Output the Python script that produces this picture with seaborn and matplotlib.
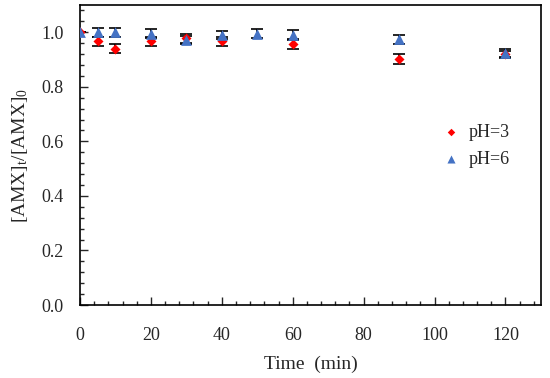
import matplotlib
matplotlib.use("Agg")
import matplotlib.pyplot as plt
from matplotlib.ticker import MultipleLocator
import seaborn as sns
import pandas as pd

time_ph3 = [0, 5, 10, 20, 30, 40, 60, 90, 120]
val_ph3 = [1.0, 0.966, 0.940, 0.966, 0.977, 0.966, 0.957, 0.903, 0.919]
err_ph3 = [0.0, 0.017, 0.018, 0.017, 0.015, 0.017, 0.017, 0.018, 0.012]

time_ph6 = [0, 5, 10, 20, 30, 40, 50, 60, 90, 120]
val_ph6 = [1.0, 1.0, 1.0, 0.994, 0.972, 0.989, 0.995, 0.99, 0.974, 0.925]
err_ph6 = [0.0, 0.017, 0.017, 0.016, 0.015, 0.015, 0.017, 0.017, 0.017, 0.015]

sns.set_style("white")
plt.rcParams['font.family'] = ['Liberation Serif', 'DejaVu Serif']
plt.rcParams['mathtext.fontset'] = 'custom'
plt.rcParams['mathtext.rm'] = 'Liberation Serif'
plt.rcParams['mathtext.it'] = 'Liberation Serif:italic'

fig = plt.figure(figsize=(5.5, 3.78), dpi=100)
ax = fig.add_axes([0.1455, 0.193, 0.838, 0.794])

ax.errorbar(time_ph3, val_ph3, yerr=err_ph3, fmt='none', ecolor='black',
            elinewidth=1.2, capsize=4, capthick=1.2, zorder=2)
ax.errorbar(time_ph6, val_ph6, yerr=err_ph6, fmt='none', ecolor='black',
            elinewidth=1.2, capsize=4, capthick=1.2, zorder=2)

df3 = pd.DataFrame({"t": time_ph3, "v": val_ph3})
df6 = pd.DataFrame({"t": time_ph6, "v": val_ph6})
sns.scatterplot(data=df3, x="t", y="v", ax=ax, marker="D", s=26, color="#ff0000",
                edgecolor="#ff0000", linewidth=0, zorder=3, label="pH=3")
sns.scatterplot(data=df6, x="t", y="v", ax=ax, marker="^", s=60, color="#4472c4",
                edgecolor="#4472c4", linewidth=0, zorder=4, label="pH=6")

ax.set_xlim(0, 130)
ax.set_ylim(0, 1.1)
ax.xaxis.set_major_locator(MultipleLocator(20))
ax.xaxis.set_minor_locator(MultipleLocator(4))
ax.yaxis.set_major_locator(MultipleLocator(0.2))
ax.yaxis.set_minor_locator(MultipleLocator(0.04))
ax.yaxis.set_major_formatter(matplotlib.ticker.FormatStrFormatter('%.1f'))
ax.tick_params(which='major', direction='in', length=6, width=1, labelsize=13,
               bottom=True, left=True, top=False, right=False)
ax.tick_params(axis='x', which='major', pad=16)
ax.tick_params(axis='y', which='major', pad=12)
ax.tick_params(which='minor', direction='in', length=3, width=1,
               bottom=True, left=True, top=False, right=False)
for s in ax.spines.values():
    s.set_color('black')
    s.set_linewidth(1.2)

ax.set_xlabel("Time  (min)", fontsize=14, labelpad=8)
ax.set_ylabel("[AMX]$_\\mathrm{t}$/[AMX]$_\\mathrm{0}$", fontsize=14, labelpad=8)

leg = ax.legend(loc='upper left', bbox_to_anchor=(0.73, 0.657), frameon=False,
                fontsize=13, handletextpad=0.0, labelspacing=0.55, markerscale=0.75)

fig.savefig("out.png", dpi=100)
